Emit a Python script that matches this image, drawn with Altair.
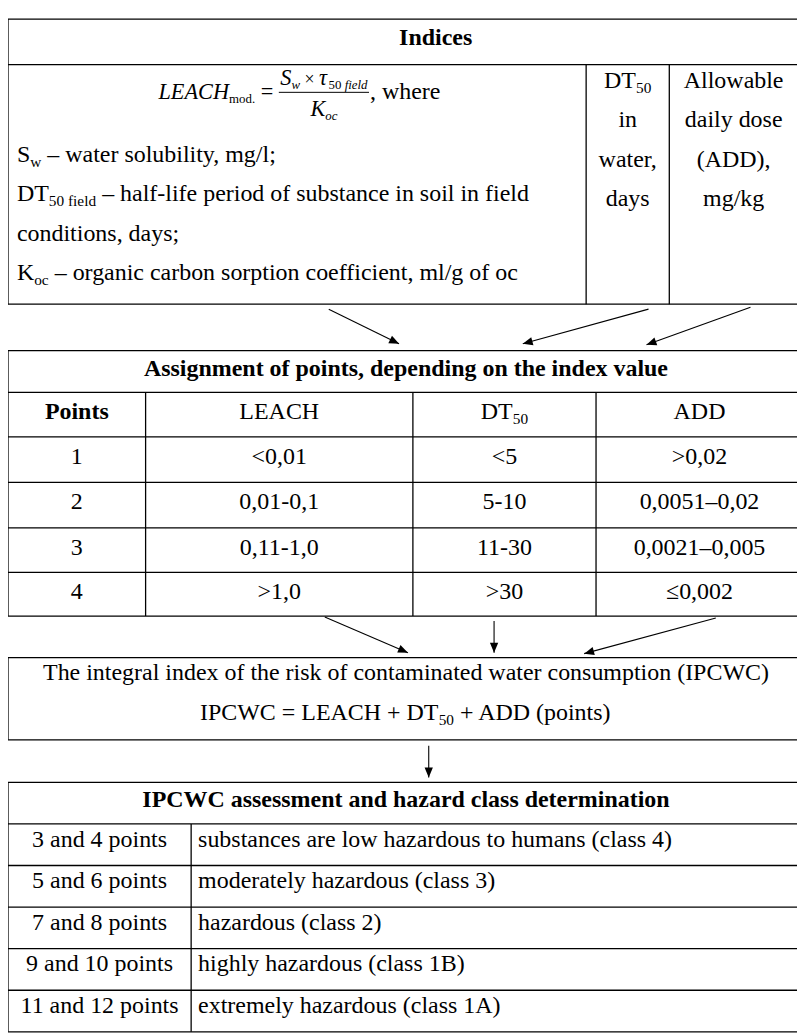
import math
import altair as alt
import pandas as pd

FONT = "'Liberation Serif', 'Times New Roman', Times, serif"

# ------------------------------------------------------------------ content
indices_title = "Indices"
definition_lines = [
    [("S", "r"), ("w", "s"), (" – water solubility, mg/l;", "r")],
    [("DT", "r"), ("50 field", "s"), (" – half-life period of substance in soil in field", "r")],
    [("conditions, days;", "r")],
    [("K", "r"), ("oc", "s"), (" – organic carbon sorption coefficient, ml/g of oc", "r")],
]
formula_left = [("LEACH", "i"), ("mod.", "fs"), (" = ", "fr")]
formula_num = [("S", "i"), ("w", "is"), (" × ", "fx"), ("τ", "i"), ("50 ", "fs"), ("field", "is")]
formula_den = [("K", "i"), ("oc", "is")]
formula_tail = [(", where", "r")]
dt50_column = [[("DT", "r"), ("50", "s")], [("in", "r")], [("water,", "r")], [("days", "r")]]
add_column = ["Allowable", "daily dose", "(ADD),", "mg/kg"]

points_title = "Assignment of points, depending on the index value"
points_header = [[("Points", "b")], [("LEACH", "r")], [("DT", "r"), ("50", "s")], [("ADD", "r")]]
points = ["1", "2", "3", "4"]
leach_ranges = ["<0,01", "0,01-0,1", "0,11-1,0", ">1,0"]
dt50_ranges = ["<5", "5-10", "11-30", ">30"]
add_ranges = [">0,02", "0,0051–0,02", "0,0021–0,005", "≤0,002"]

ipcwc_lines = [
    [("The integral index of the risk of contaminated water consumption (IPCWC)", "r")],
    [("IPCWC = LEACH + DT", "r"), ("50", "s"), (" + ADD (points)", "r")],
]

class_title = "IPCWC assessment and hazard class determination"
class_points = ["3 and 4 points", "5 and 6 points", "7 and 8 points", "9 and 10 points", "11 and 12 points"]
class_desc = [
    "substances are low hazardous to humans (class 4)",
    "moderately hazardous (class 3)",
    "hazardous (class 2)",
    "highly hazardous (class 1B)",
    "extremely hazardous (class 1A)",
]

# ------------------------------------------------------------------ layout (page px)
LEFT, RIGHT = 8, 811
T1 = dict(top=14, hdr=60, bot=302, cols=[592, 676])
T2_ROWS = [349, 391, 436, 482, 528, 573, 617]
T2_COLS = [147, 417, 602]
T3 = dict(top=659, bot=742)
T4_ROWS = [785, 827, 869, 911, 953, 995, 1037]
T4_COL = 193

STYLES = {
    "r": dict(size=24.2, weight="normal", italic=False, dy=0),
    "b": dict(size=24.2, weight="bold", italic=False, dy=0),
    "s": dict(size=15.5, weight="normal", italic=False, dy=5),
    "i": dict(size=22.5, weight="normal", italic=True, dy=0),
    "is": dict(size=13, weight="normal", italic=True, dy=4),
    "fs": dict(size=13, weight="normal", italic=False, dy=4),
    "fr": dict(size=22.5, weight="normal", italic=False, dy=0),
    "fx": dict(size=18, weight="normal", italic=False, dy=0),
}

W_REG = {" ": 250, "(": 333, ")": 333, "+": 564, ",": 250, "-": 333, ".": 250, "/": 278, ";": 278,
         "<": 564, "=": 564, ">": 564, "–": 500, "×": 564, "≤": 549, "τ": 439}
for c in "0123456789":
    W_REG[c] = 500
W_REG.update(dict(zip("ABCDEFGHIJKLMNOPQRSTUVWXYZ",
                      [722, 667, 667, 722, 611, 556, 722, 722, 333, 389, 722, 611, 889, 722, 722, 556,
                       722, 667, 556, 611, 722, 722, 944, 722, 722, 611])))
W_REG.update(dict(zip("abcdefghijklmnopqrstuvwxyz",
                      [444, 500, 444, 500, 444, 333, 500, 500, 278, 278, 500, 278, 778, 500, 500, 500,
                       500, 333, 389, 278, 500, 500, 722, 500, 500, 444])))
W_ITAL = dict(W_REG)
W_ITAL.update({"A": 611, "C": 667, "E": 611, "H": 722, "K": 667, "L": 556, "S": 500, "f": 278,
               "w": 667, "τ": 430})


def tw(text, style):
    st = STYLES[style]
    table = W_ITAL if st["italic"] else W_REG
    return sum(table.get(ch, 500) for ch in text) * st["size"] / 1000


texts = []


def emit(text, style, x, y, align):
    lead = len(text) - len(text.lstrip(" "))
    x = x + tw(" " * lead, style) if align == "left" else x
    texts.append(dict(text=text.strip(" "), style=style, align=align, x=x, y=y + STYLES[style]["dy"]))


def place(runs, x, y, align="left"):
    if len(runs) == 1:
        emit(runs[0][0], runs[0][1], x, y, align)
        return x + (tw(*runs[0]) if align == "left" else 0)
    total = sum(tw(t, s) for t, s in runs)
    cur = x - total / 2 if align == "center" else x
    for t, s in runs:
        emit(t, s, cur, y, "left")
        cur += tw(t, s)
    return cur


segs = []


def hline(y, x1=LEFT, x2=RIGHT, w=1.3):
    segs.append(dict(x=x1, y=y, x2=x2, y2=y, w=w))


def vline(x, y1, y2, w=1.3):
    segs.append(dict(x=x, y=y1, x2=x, y2=y2, w=w))


# table 1
place([(indices_title, "b")], 440, T1["top"] + 26, "center")
for i, runs in enumerate(definition_lines):
    place(runs, 17, 158 + 40 * i)
col_c1 = (T1["cols"][0] + T1["cols"][1]) / 2
for i, runs in enumerate(dt50_column):
    place(runs, col_c1, 84 + 39.5 * i, "center")
for i, t in enumerate(add_column):
    place([(t, "r")], 741, 84 + 39.5 * i, "center")

# formula
fx = place(formula_left, 160, 95)
num_w = sum(tw(t, s) for t, s in formula_num)
den_w = sum(tw(t, s) for t, s in formula_den)
frac_w = max(num_w, den_w) + 3
frac_c = fx + frac_w / 2
place(formula_num, frac_c, 81, "center")
place(formula_den, frac_c, 112, "center")
place(formula_tail, fx + frac_w + 1, 95)
hline(88, fx, fx + frac_w, w=1.0)

# table 2
place([(points_title, "b")], 410, T2_ROWS[0] + 26, "center")
cols2 = [LEFT] + T2_COLS + [RIGHT]
centers2 = [(cols2[i] + cols2[i + 1]) / 2 for i in range(4)]
for j, runs in enumerate(points_header):
    place(runs, centers2[j], T2_ROWS[1] + 27, "center")
for i in range(4):
    for j, v in enumerate([points[i], leach_ranges[i], dt50_ranges[i], add_ranges[i]]):
        place([(v, "r")], centers2[j], T2_ROWS[i + 2] + 27, "center")

# box 3
for i, runs in enumerate(ipcwc_lines):
    place(runs, 410, T3["top"] + 23 + 40 * i, "center")

# table 4
place([(class_title, "b")], 410, T4_ROWS[0] + 25, "center")
for i in range(5):
    place([(class_points[i], "r")], (LEFT + T4_COL) / 2, T4_ROWS[i + 1] + 23, "center")
    place([(class_desc[i], "r")], T4_COL + 7, T4_ROWS[i + 1] + 23, "left")

# ------------------------------------------------------------------ table lines
for y in (T1["top"], T1["hdr"], T1["bot"]):
    hline(y)
vline(LEFT, T1["top"], T1["bot"])
vline(RIGHT, T1["top"], T1["bot"])
for c in T1["cols"]:
    vline(c, T1["hdr"], T1["bot"])

for y in T2_ROWS:
    hline(y)
vline(LEFT, T2_ROWS[0], T2_ROWS[-1])
vline(RIGHT, T2_ROWS[0], T2_ROWS[-1])
for c in T2_COLS:
    vline(c, T2_ROWS[1], T2_ROWS[-1])

hline(T3["top"])
hline(T3["bot"])
vline(LEFT, T3["top"], T3["bot"])
vline(RIGHT, T3["top"], T3["bot"])

for y in T4_ROWS:
    hline(y)
vline(LEFT, T4_ROWS[0], T4_ROWS[-1])
vline(RIGHT, T4_ROWS[0], T4_ROWS[-1])
vline(T4_COL, T4_ROWS[1], T4_ROWS[-1])

# arrows: (x_start, x_end, y_start, y_end)
arrow_specs = [
    (332, 403, T1["bot"] + 5, T2_ROWS[0] - 7),
    (655, 528, T1["bot"] + 5, T2_ROWS[0] - 7),
    (758, 653, T1["bot"] + 3, T2_ROWS[0] - 6),
    (328, 412, T2_ROWS[-1] + 1, T3["top"] - 5),
    (499, 499, T2_ROWS[-1] + 5, T3["top"] - 5),
    (723, 590, T2_ROWS[-1] + 2, T3["top"] - 4),
    (433, 433, T3["bot"] + 6, T4_ROWS[0] - 5),
]
shafts, heads = [], []
for xs, xe, ys, ye in arrow_specs:
    shafts.append(dict(x=xs, y=ys, x2=xe, y2=ye))
    ang = math.degrees(math.atan2(xe - xs, -(ye - ys))) % 360
    heads.append(dict(x=xe, y=ye, angle=ang))

# ------------------------------------------------------------------ chart
W, H = 797, 1025
X = alt.X("x:Q", scale=alt.Scale(domain=[8, 8 + W], nice=False, zero=False), axis=None)
Y = alt.Y("y:Q", scale=alt.Scale(domain=[8, 8 + H], nice=False, zero=False, reverse=True), axis=None)

layers = [
    alt.Chart(pd.DataFrame(segs)).mark_rule(color="black").encode(
        x=X, y=Y, x2="x2:Q", y2="y2:Q", strokeWidth=alt.StrokeWidth("w:Q", scale=None)),
    alt.Chart(pd.DataFrame(shafts)).mark_rule(color="black", strokeWidth=1.1).encode(
        x=X, y=Y, x2="x2:Q", y2="y2:Q"),
    alt.Chart(pd.DataFrame(heads)).mark_point(
        shape="M0,0L-0.42,1L0.42,1Z", filled=True, color="black", opacity=1, size=400, strokeWidth=0
    ).encode(x=X, y=Y, angle=alt.Angle("angle:Q", scale=None)),
]

tdf = pd.DataFrame(texts)
for (style, align), g in tdf.groupby(["style", "align"]):
    st = STYLES[style]
    layers.append(
        alt.Chart(g).mark_text(
            font=FONT, fontSize=st["size"], fontWeight=st["weight"],
            fontStyle="italic" if st["italic"] else "normal",
            align=align, baseline="alphabetic", color="black",
        ).encode(x=X, y=Y, text="text:N")
    )

chart = alt.layer(*layers).properties(
    width=W, height=H, padding=0, autosize=alt.AutoSizeParams(type="none"), background="white"
).configure_view(stroke=None)

chart.save("out.html", embed_options={"renderer": "svg", "actions": False})
